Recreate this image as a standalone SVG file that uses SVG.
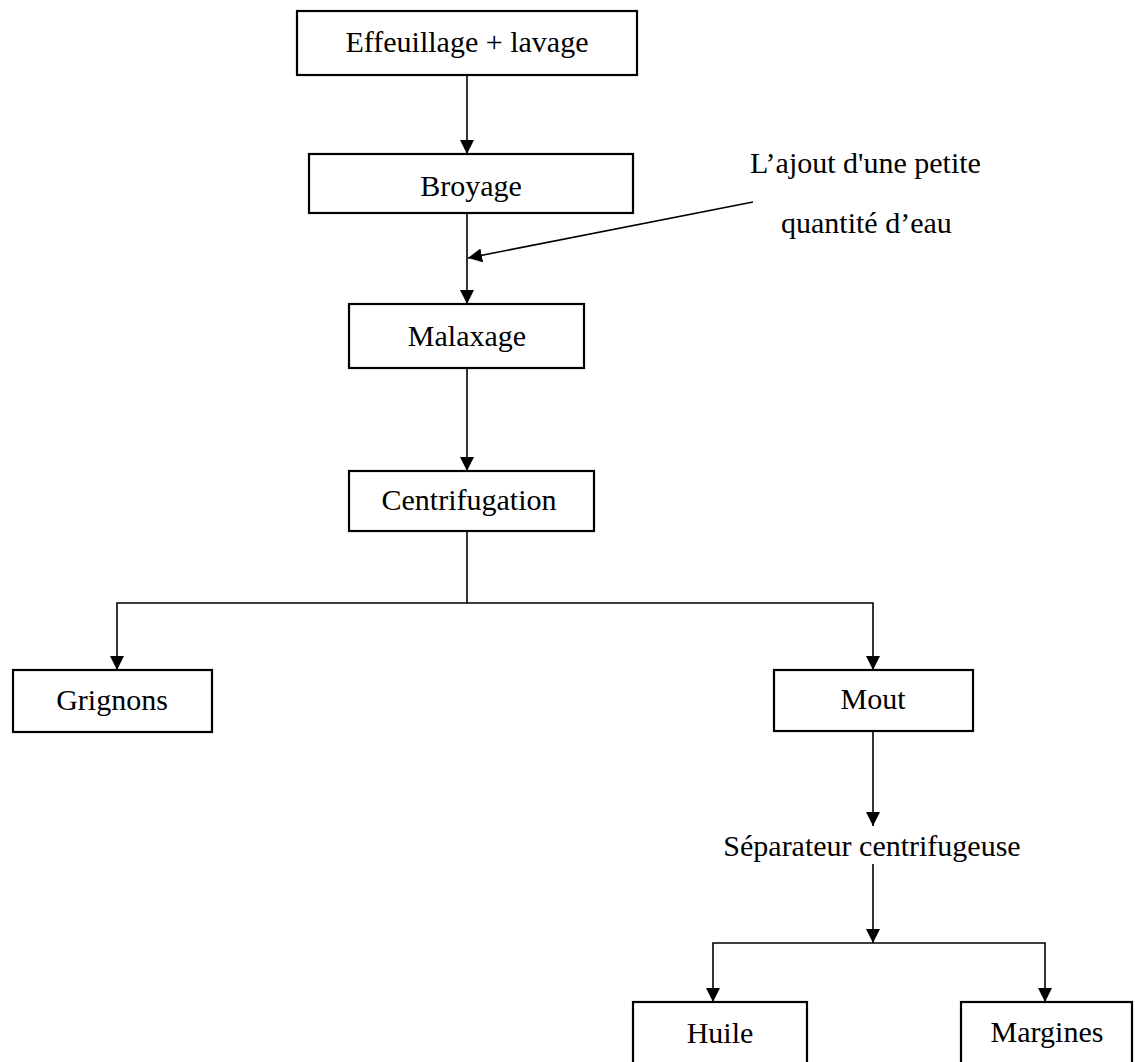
<svg xmlns="http://www.w3.org/2000/svg" width="1135" height="1062" viewBox="0 0 1135 1062">
  <style>
    .box { fill: #fff; stroke: #000; stroke-width: 2.2; }
    .lbl { font-family: "Liberation Serif", "Times New Roman", serif; font-size: 30px; fill: #000; }
    .mid { text-anchor: middle; }
    .link { fill: none; stroke: #000; stroke-width: 1.6; }
    .arrow { marker-end: url(#head); }
  </style>
  <defs>
    <marker id="head" markerUnits="userSpaceOnUse" markerWidth="14" markerHeight="16" viewBox="0 0 14 16" refX="14" refY="7" orient="auto">
      <path d="M0,0 L14,7 L0,14 Z" fill="#000"/>
    </marker>
  </defs>

  <rect width="1135" height="1062" fill="#fff"/>

  <!-- connectors -->
  <g id="connectors">
    <line class="link arrow" x1="467" y1="75" x2="467" y2="154"/>
    <line class="link arrow" x1="467" y1="213" x2="467" y2="304"/>
    <line class="link arrow" x1="753" y1="202" x2="468" y2="258"/>
    <line class="link arrow" x1="467" y1="368" x2="467" y2="471"/>
    <polyline class="link" points="467,531 467,603"/>
    <polyline class="link arrow" points="467,603 117,603 117,670"/>
    <polyline class="link arrow" points="467,603 873,603 873,670"/>
    <line class="link arrow" x1="873" y1="731" x2="873" y2="826" stroke-width="2.6"/>
    <line class="link arrow" x1="873" y1="864" x2="873" y2="943"/>
    <polyline class="link arrow" points="873,943 713,943 713,1002"/>
    <polyline class="link arrow" points="873,943 1045,943 1045,1002"/>
  </g>

  <g id="effeuillage">
    <rect class="box" x="297" y="11" width="340" height="64"/>
    <text class="lbl mid" x="467" y="52">Effeuillage + lavage</text>
  </g>
  <g id="broyage">
    <rect class="box" x="309" y="154" width="324" height="59"/>
    <text class="lbl mid" x="471" y="196">Broyage</text>
  </g>
  <g id="ajout-eau">
    <text class="lbl" x="750" y="173">L’ajout d'une petite</text>
    <text class="lbl" x="781" y="233">quantité d’eau</text>
  </g>
  <g id="malaxage">
    <rect class="box" x="349" y="304" width="235" height="64"/>
    <text class="lbl mid" x="467" y="346">Malaxage</text>
  </g>
  <g id="centrifugation">
    <rect class="box" x="349" y="471" width="245" height="60"/>
    <text class="lbl mid" x="469" y="510">Centrifugation</text>
  </g>
  <g id="grignons">
    <rect class="box" x="13" y="670" width="199" height="62"/>
    <text class="lbl mid" x="112" y="710">Grignons</text>
  </g>
  <g id="mout">
    <rect class="box" x="774" y="670" width="199" height="61"/>
    <text class="lbl mid" x="873" y="709">Mout</text>
  </g>
  <g id="separateur">
    <text class="lbl mid" x="872" y="856">Séparateur centrifugeuse</text>
  </g>
  <g id="huile">
    <rect class="box" x="633" y="1002" width="174" height="80"/>
    <text class="lbl mid" x="720" y="1043">Huile</text>
  </g>
  <g id="margines">
    <rect class="box" x="961" y="1002" width="171" height="80"/>
    <text class="lbl mid" x="1047" y="1042">Margines</text>
  </g>
</svg>
